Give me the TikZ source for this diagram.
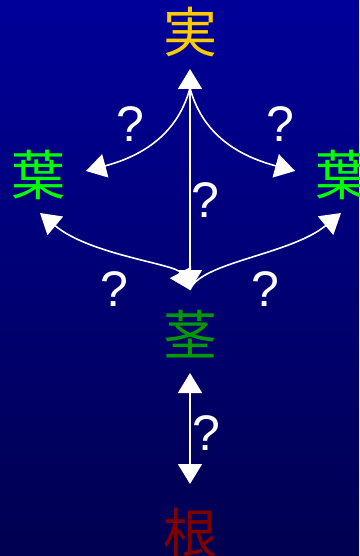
\documentclass[tikz,border=0pt]{standalone}
\usepackage{fontspec}
\setmainfont{Liberation Sans}
\newfontfamily\jafont{Noto Sans CJK JP}
\usetikzlibrary{arrows.meta}
\definecolor{skytop}{RGB}{0,0,153}
\definecolor{skybottom}{RGB}{0,0,80}
\definecolor{fruitgold}{RGB}{255,204,0}
\definecolor{leafgreen}{RGB}{0,255,0}
\definecolor{stemgreen}{RGB}{0,153,0}
\definecolor{rootred}{RGB}{128,0,0}
\tikzset{
  organ/.style={font=\jafont\fontsize{54}{54}\selectfont, inner sep=0pt},
  ask/.style={font=\fontsize{50}{50}\selectfont, text=white, inner sep=0pt},
  link/.style={draw=white, line width=1.6pt, >={Triangle[length=20pt,width=24pt]}},
}
\begin{document}
\begin{tikzpicture}[x=1pt,y=-1pt]
\useasboundingbox (0,0) rectangle (359,556);
\shade[top color=skytop,bottom color=skybottom] (0,0) rectangle (359,556);
% parts of the plant
\node[organ,text=fruitgold] (fruit) at (190,32) {実};
\node[organ,text=leafgreen] (leafL) at (39,175) {葉};
\node[organ,text=leafgreen] (leafR) at (342,175) {葉};
\node[organ,text=stemgreen] (stem) at (190,334) {茎};
\node[organ,text=rootred] (root) at (190,533) {根};
% arrow ends
\coordinate (fruitHub) at (190,69);
\coordinate (fruitBase) at (190,88);
\coordinate (stemHub) at (190,290);
\coordinate (leafLtop) at (86,171);
\coordinate (leafRtop) at (295,171);
\coordinate (leafLlow) at (40,213);
\coordinate (leafRlow) at (341,213);
\coordinate (stemLow) at (190,373);
\coordinate (rootTop) at (190,484);
% links
\draw[link,<->] (fruitHub) -- (stemHub);
\draw[link,->] (fruitBase) to[out=-105,in=15] (leafLtop);
\draw[link,->] (fruitBase) to[out=-75,in=165] (leafRtop);
\draw[link,<->] (leafLlow) .. controls (90,255) and (176,264) .. (stemHub);
\draw[link,->] (stemHub) .. controls (200,262) and (290,255) .. (leafRlow);
\draw[link,<->] (stemLow) -- (rootTop);
% question marks
\node[ask] (askFL) at (130,124) {?};
\node[ask] (askFR) at (280,124) {?};
\node[ask] (askFS) at (205,200) {?};
\node[ask] (askSL) at (114,289) {?};
\node[ask] (askSR) at (265,289) {?};
\node[ask] (askSRoot) at (206,433) {?};
\end{tikzpicture}
\end{document}
